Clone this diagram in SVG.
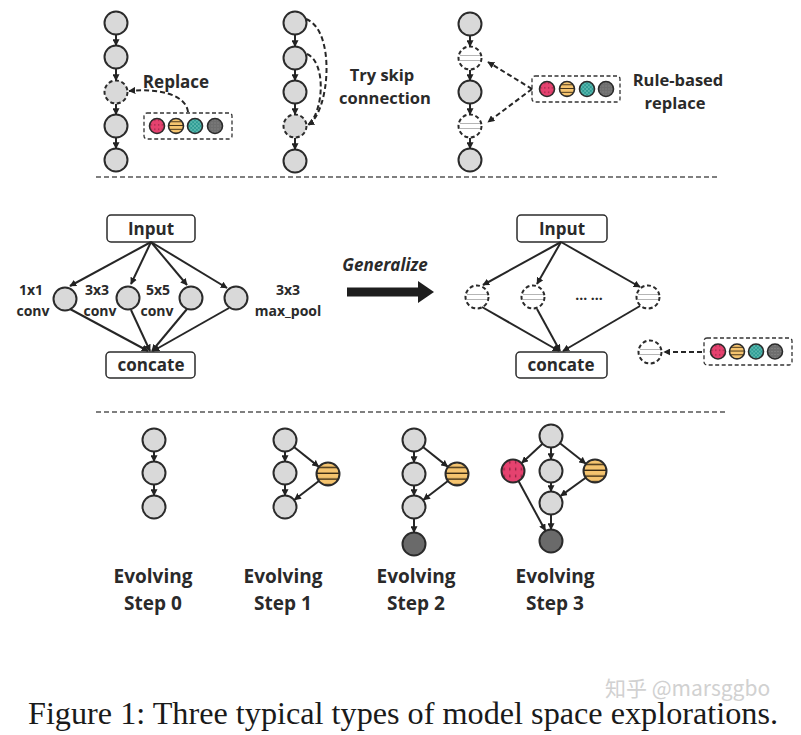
<svg xmlns="http://www.w3.org/2000/svg" width="801" height="735" viewBox="0 0 801 735">
<style>
.n{fill:#D9D9D9;stroke:#2b2b2b;stroke-width:2}
.nd{fill:#D9D9D9;stroke:#2b2b2b;stroke-width:2;stroke-dasharray:4 2.6}
.nw{fill:#fff;stroke:#2b2b2b;stroke-width:2;stroke-dasharray:4 2.6}
.hl{stroke:#b5b5b5;stroke-width:1}
.dk{fill:#6A6A6A;stroke:#2b2b2b;stroke-width:2}
.p{stroke:#2b2b2b;stroke-width:1.6}
.e{stroke:#262626;stroke-width:2;fill:none}
.ed{stroke:#262626;stroke-width:2;fill:none;stroke-dasharray:5 3}
.box{fill:#fff;stroke:#2b2b2b;stroke-width:1.5}
.pal{fill:#fff;stroke:#333;stroke-width:1.3;stroke-dasharray:4 2.5}
.sep{stroke:#555;stroke-width:1.3;stroke-dasharray:5 3}
.t{font-family:"Open Sans","Liberation Sans",sans-serif;font-weight:bold;fill:#2a2a2a;text-anchor:middle}
</style>
<defs>
<marker id="ah" viewBox="0 0 10 10" refX="9" refY="5" markerWidth="7" markerHeight="7" orient="auto" markerUnits="userSpaceOnUse"><path d="M0,0 L10,5 L0,10 z" fill="#222"/></marker>
<pattern id="pPink" width="0.25" height="0.3" patternContentUnits="objectBoundingBox"><rect width="0.25" height="0.3" fill="#E5426F"/><rect x="0.1" y="0.06" width="0.035" height="0.12" fill="#5a1024"/></pattern>
<pattern id="pOrange" width="1" height="0.25" patternContentUnits="objectBoundingBox"><rect width="1" height="0.25" fill="#F5C46F"/><rect y="0.19" width="1" height="0.065" fill="#3a2a12"/></pattern>
<pattern id="pTeal" width="0.25" height="0.25" patternContentUnits="objectBoundingBox"><rect width="0.25" height="0.25" fill="#2C9B93"/><path d="M0,0 L0.25,0.25 M0.25,0 L0,0.25" stroke="#8fd6cd" stroke-width="0.03"/></pattern>
<pattern id="pGray" width="0.2" height="0.2" patternContentUnits="objectBoundingBox"><rect width="0.2" height="0.2" fill="#6E6E6E"/><circle cx="0.1" cy="0.1" r="0.028" fill="#b0b0b0"/></pattern>
</defs>

<!-- separators -->
<line class="sep" x1="96" y1="177" x2="720" y2="177"/>
<line class="sep" x1="96" y1="412" x2="727" y2="412"/>

<!-- ===== Top: Replace ===== -->
<g id="top-replace">
<circle class="n" cx="116" cy="23" r="11.5"/>
<circle class="n" cx="116" cy="57" r="11.5"/>
<circle class="nd" cx="116" cy="92" r="11.5"/>
<circle class="n" cx="116" cy="126" r="11.5"/>
<circle class="n" cx="116" cy="160" r="11.5"/>
<text class="t" x="176" y="88" font-size="17">Replace</text>
</g>
<g id="palette1">
<rect class="pal" x="144" y="113" width="88" height="26" rx="3"/>
<circle class="p" cx="157" cy="126" r="7.5" fill="url(#pPink)"/>
<circle class="p" cx="176" cy="126" r="7.5" fill="url(#pOrange)"/>
<circle class="p" cx="195" cy="126" r="7.5" fill="url(#pTeal)"/>
<circle class="p" cx="215" cy="126" r="7.5" fill="url(#pGray)"/>
</g>

<!-- ===== Top: Skip ===== -->
<g id="top-skip">
<circle class="n" cx="295" cy="23" r="11.5"/>
<circle class="n" cx="295" cy="58" r="11.5"/>
<circle class="n" cx="295" cy="92" r="11.5"/>
<circle class="nd" cx="295" cy="126" r="11.5"/>
<circle class="n" cx="295" cy="161" r="11.5"/>
<text class="t" x="382" y="81" font-size="16.5">Try skip</text>
<text class="t" x="385" y="104" font-size="16.5">connection</text>
</g>

<!-- ===== Top: Rule-based ===== -->
<g id="top-rule">
<circle class="n" cx="470" cy="24" r="11.5"/>
<circle class="nw" cx="470" cy="58" r="11.5"/>
<line class="hl" x1="460" y1="55.5" x2="480" y2="55.5"/><line class="hl" x1="460" y1="60.5" x2="480" y2="60.5"/>
<circle class="n" cx="470" cy="92" r="11.5"/>
<circle class="nw" cx="470" cy="126" r="11.5"/>
<line class="hl" x1="460" y1="123.5" x2="480" y2="123.5"/><line class="hl" x1="460" y1="128.5" x2="480" y2="128.5"/>
<circle class="n" cx="470" cy="160" r="11.5"/>
<text class="t" x="678" y="86" font-size="16.5">Rule-based</text>
<text class="t" x="675" y="109" font-size="16.5">replace</text>
</g>
<g id="palette2">
<rect class="pal" x="532" y="76" width="88" height="26" rx="3"/>
<circle class="p" cx="547" cy="89" r="7.5" fill="url(#pPink)"/>
<circle class="p" cx="567" cy="89" r="7.5" fill="url(#pOrange)"/>
<circle class="p" cx="587" cy="89" r="7.5" fill="url(#pTeal)"/>
<circle class="p" cx="606" cy="89" r="7.5" fill="url(#pGray)"/>
</g>

<!-- ===== Middle left: Inception ===== -->
<g id="inc-input">
<rect class="box" x="107" y="215" width="88" height="27" rx="4"/>
<text class="t" x="151" y="235" font-size="17">Input</text>
</g>
<g id="inc-1x1"><circle class="n" cx="65" cy="299" r="11.5"/>
<text class="t" x="31" y="295" font-size="14">1x1</text><text class="t" x="33" y="316" font-size="14">conv</text></g>
<g id="inc-3x3"><circle class="n" cx="128" cy="298" r="11.5"/>
<text class="t" x="97" y="295" font-size="14">3x3</text><text class="t" x="100" y="316" font-size="14">conv</text></g>
<g id="inc-5x5"><circle class="n" cx="191" cy="298" r="11.5"/>
<text class="t" x="158" y="295" font-size="14">5x5</text><text class="t" x="157" y="316" font-size="14">conv</text></g>
<g id="inc-pool"><circle class="n" cx="236" cy="298" r="11.5"/>
<text class="t" x="288" y="295" font-size="14">3x3</text><text class="t" x="288" y="316" font-size="14">max_pool</text></g>
<g id="inc-concate">
<rect class="box" x="106" y="352" width="89" height="26" rx="4"/>
<text class="t" x="151" y="371" font-size="17">concate</text>
</g>

<!-- Generalize -->
<g id="generalize">
<text x="385" y="271" font-family="'Open Sans','Liberation Sans',sans-serif" font-weight="bold" font-style="italic" font-size="17" fill="#2a2a2a" text-anchor="middle">Generalize</text>
<polygon points="347,287.5 418,287.5 418,281 434,292 418,303 418,296.5 347,296.5" fill="#1e1e1e"/>
</g>

<!-- ===== Middle right ===== -->
<g id="gen-input">
<rect class="box" x="517" y="215" width="90" height="27" rx="4"/>
<text class="t" x="562" y="235" font-size="17">Input</text>
</g>
<g id="gen-n1"><circle class="nw" cx="477" cy="297" r="11.5"/>
<line class="hl" x1="467" y1="294.5" x2="487" y2="294.5"/><line class="hl" x1="467" y1="299.5" x2="487" y2="299.5"/></g>
<g id="gen-n2"><circle class="nw" cx="533" cy="297" r="11.5"/>
<line class="hl" x1="523" y1="294.5" x2="543" y2="294.5"/><line class="hl" x1="523" y1="299.5" x2="543" y2="299.5"/></g>
<g id="gen-dots"><text class="t" x="589" y="300" font-size="14">... ...</text></g>
<g id="gen-n3"><circle class="nw" cx="648" cy="297" r="11.5"/>
<line class="hl" x1="638" y1="294.5" x2="658" y2="294.5"/><line class="hl" x1="638" y1="299.5" x2="658" y2="299.5"/></g>
<g id="gen-concate">
<rect class="box" x="516" y="352" width="91" height="26" rx="4"/>
<text class="t" x="561" y="371" font-size="17">concate</text>
</g>
<g id="gen-lone"><circle class="nw" cx="650" cy="352" r="11.5"/>
<line class="hl" x1="640" y1="349.5" x2="660" y2="349.5"/><line class="hl" x1="640" y1="354.5" x2="660" y2="354.5"/></g>
<g id="palette3">
<rect class="pal" x="704" y="338" width="88" height="27" rx="3"/>
<circle class="p" cx="718" cy="351.5" r="7.5" fill="url(#pPink)"/>
<circle class="p" cx="737" cy="351.5" r="7.5" fill="url(#pOrange)"/>
<circle class="p" cx="756" cy="351.5" r="7.5" fill="url(#pTeal)"/>
<circle class="p" cx="775" cy="351.5" r="7.5" fill="url(#pGray)"/>
</g>

<!-- ===== Bottom: evolving ===== -->
<g id="step0">
<circle class="n" cx="154" cy="440" r="11.5"/>
<circle class="n" cx="154" cy="473" r="11.5"/>
<circle class="n" cx="154" cy="507" r="11.5"/>
<text class="t" x="153" y="583" font-size="19">Evolving</text>
<text class="t" x="153" y="610" font-size="19">Step 0</text>
</g>
<g id="step1">
<circle class="n" cx="285" cy="440" r="11.5"/>
<circle class="n" cx="285" cy="473" r="11.5"/>
<circle class="n" cx="285" cy="507" r="11.5"/>
<circle class="n" cx="328" cy="474" r="11.5" style="fill:url(#pOrange)"/>
<text class="t" x="283" y="583" font-size="19">Evolving</text>
<text class="t" x="283" y="610" font-size="19">Step 1</text>
</g>
<g id="step2">
<circle class="n" cx="414" cy="440" r="11.5"/>
<circle class="n" cx="414" cy="474" r="11.5"/>
<circle class="n" cx="414" cy="507" r="11.5"/>
<circle class="dk" cx="414" cy="544" r="11.5"/>
<circle class="n" cx="457" cy="474" r="11.5" style="fill:url(#pOrange)"/>
<text class="t" x="416" y="583" font-size="19">Evolving</text>
<text class="t" x="416" y="610" font-size="19">Step 2</text>
</g>
<g id="step3">
<circle class="n" cx="551" cy="436" r="11.5"/>
<circle class="n" cx="513" cy="471" r="11.5" style="fill:url(#pPink)"/>
<circle class="n" cx="551" cy="471" r="11.5"/>
<circle class="n" cx="595" cy="471" r="11.5" style="fill:url(#pOrange)"/>
<circle class="n" cx="551" cy="503" r="11.5"/>
<circle class="dk" cx="551" cy="541" r="11.5"/>
<text class="t" x="555" y="583" font-size="19">Evolving</text>
<text class="t" x="555" y="610" font-size="19">Step 3</text>
</g>

<!-- ===== Connectors ===== -->
<g id="connectors">
<line class="e" x1="116" y1="35" x2="116" y2="45.5" marker-end="url(#ah)"/>
<line class="e" x1="116" y1="69" x2="116" y2="80.5" marker-end="url(#ah)"/>
<line class="e" x1="116" y1="104" x2="116" y2="114.5" marker-end="url(#ah)"/>
<line class="e" x1="116" y1="138" x2="116" y2="148.5" marker-end="url(#ah)"/>
<path class="ed" d="M188,112 C186,95 160,88 129,91" marker-end="url(#ah)"/>

<line class="e" x1="295" y1="35" x2="295" y2="46.5" marker-end="url(#ah)"/>
<line class="e" x1="295" y1="70" x2="295" y2="80.5" marker-end="url(#ah)"/>
<line class="e" x1="295" y1="104" x2="295" y2="114.5" marker-end="url(#ah)"/>
<line class="e" x1="295" y1="138" x2="295" y2="149.5" marker-end="url(#ah)"/>
<path class="ed" d="M306,19 C336,30 330,112 308,125" marker-end="url(#ah)"/>
<path class="ed" d="M307,54 C326,62 324,110 309,124"/>

<line class="e" x1="470" y1="36" x2="470" y2="46.5" marker-end="url(#ah)"/>
<line class="e" x1="470" y1="70" x2="470" y2="80.5" marker-end="url(#ah)"/>
<line class="e" x1="470" y1="104" x2="470" y2="114.5" marker-end="url(#ah)"/>
<line class="e" x1="470" y1="138" x2="470" y2="148.5" marker-end="url(#ah)"/>
<line class="ed" x1="532" y1="89" x2="488" y2="62" marker-end="url(#ah)"/>
<line class="ed" x1="532" y1="89" x2="488" y2="122" marker-end="url(#ah)"/>

<line class="e" x1="151" y1="242" x2="70" y2="286" marker-end="url(#ah)"/>
<line class="e" x1="151" y1="242" x2="131" y2="284" marker-end="url(#ah)"/>
<line class="e" x1="151" y1="242" x2="187" y2="285" marker-end="url(#ah)"/>
<line class="e" x1="151" y1="242" x2="227" y2="288" marker-end="url(#ah)"/>
<line class="e" x1="70" y1="309" x2="148" y2="351" marker-end="url(#ah)"/>
<line class="e" x1="131" y1="310" x2="150" y2="351" marker-end="url(#ah)"/>
<line class="e" x1="187" y1="309" x2="152" y2="351" marker-end="url(#ah)"/>
<line class="e" x1="229" y1="308" x2="153" y2="351" marker-end="url(#ah)"/>

<line class="e" x1="561" y1="242" x2="483" y2="285" marker-end="url(#ah)"/>
<line class="e" x1="561" y1="242" x2="537" y2="284" marker-end="url(#ah)"/>
<line class="e" x1="561" y1="242" x2="640" y2="287" marker-end="url(#ah)"/>
<line class="e" x1="482" y1="307" x2="559" y2="351" marker-end="url(#ah)"/>
<line class="e" x1="537" y1="309" x2="560" y2="351" marker-end="url(#ah)"/>
<line class="e" x1="640" y1="306" x2="563" y2="351" marker-end="url(#ah)"/>
<line class="ed" x1="702" y1="352" x2="664" y2="352" marker-end="url(#ah)"/>

<line class="e" x1="154" y1="452" x2="154" y2="461.5" marker-end="url(#ah)"/>
<line class="e" x1="154" y1="485" x2="154" y2="495.5" marker-end="url(#ah)"/>

<line class="e" x1="285" y1="452" x2="285" y2="461.5" marker-end="url(#ah)"/>
<line class="e" x1="285" y1="485" x2="285" y2="495.5" marker-end="url(#ah)"/>
<line class="e" x1="294" y1="447" x2="318.6" y2="466.6" marker-end="url(#ah)"/>
<line class="e" x1="318.9" y1="481" x2="294.5" y2="499.7" marker-end="url(#ah)"/>

<line class="e" x1="414" y1="452" x2="414" y2="462.5" marker-end="url(#ah)"/>
<line class="e" x1="414" y1="486" x2="414" y2="495.5" marker-end="url(#ah)"/>
<line class="e" x1="414" y1="519" x2="414" y2="532.5" marker-end="url(#ah)"/>
<line class="e" x1="423" y1="447" x2="447.6" y2="466.6" marker-end="url(#ah)"/>
<line class="e" x1="447.9" y1="481" x2="423.5" y2="499.7" marker-end="url(#ah)"/>

<line class="e" x1="542.5" y1="443.8" x2="521.8" y2="462.9" marker-end="url(#ah)"/>
<line class="e" x1="551" y1="448" x2="551" y2="459.5" marker-end="url(#ah)"/>
<line class="e" x1="560" y1="443.2" x2="585.6" y2="463.5" marker-end="url(#ah)"/>
<line class="e" x1="551" y1="483" x2="551" y2="491.5" marker-end="url(#ah)"/>
<line class="e" x1="585.7" y1="477.8" x2="560.7" y2="495.9" marker-end="url(#ah)"/>
<line class="e" x1="551" y1="515" x2="551" y2="529.5" marker-end="url(#ah)"/>
<line class="e" x1="518.5" y1="481.1" x2="545.3" y2="530.5" marker-end="url(#ah)"/>
</g>

<!-- caption -->
<text x="28" y="724" font-family="'Liberation Serif','Times New Roman',serif" font-size="31" fill="#1a1a1a" textLength="750" lengthAdjust="spacingAndGlyphs">Figure 1: Three typical types of model space explorations.</text>
<text x="605" y="696" font-family="'Noto Sans CJK SC','Noto Sans',sans-serif" font-size="21" fill="#c9c9c9" opacity="0.85">知乎 @marsggbo</text>
</svg>
